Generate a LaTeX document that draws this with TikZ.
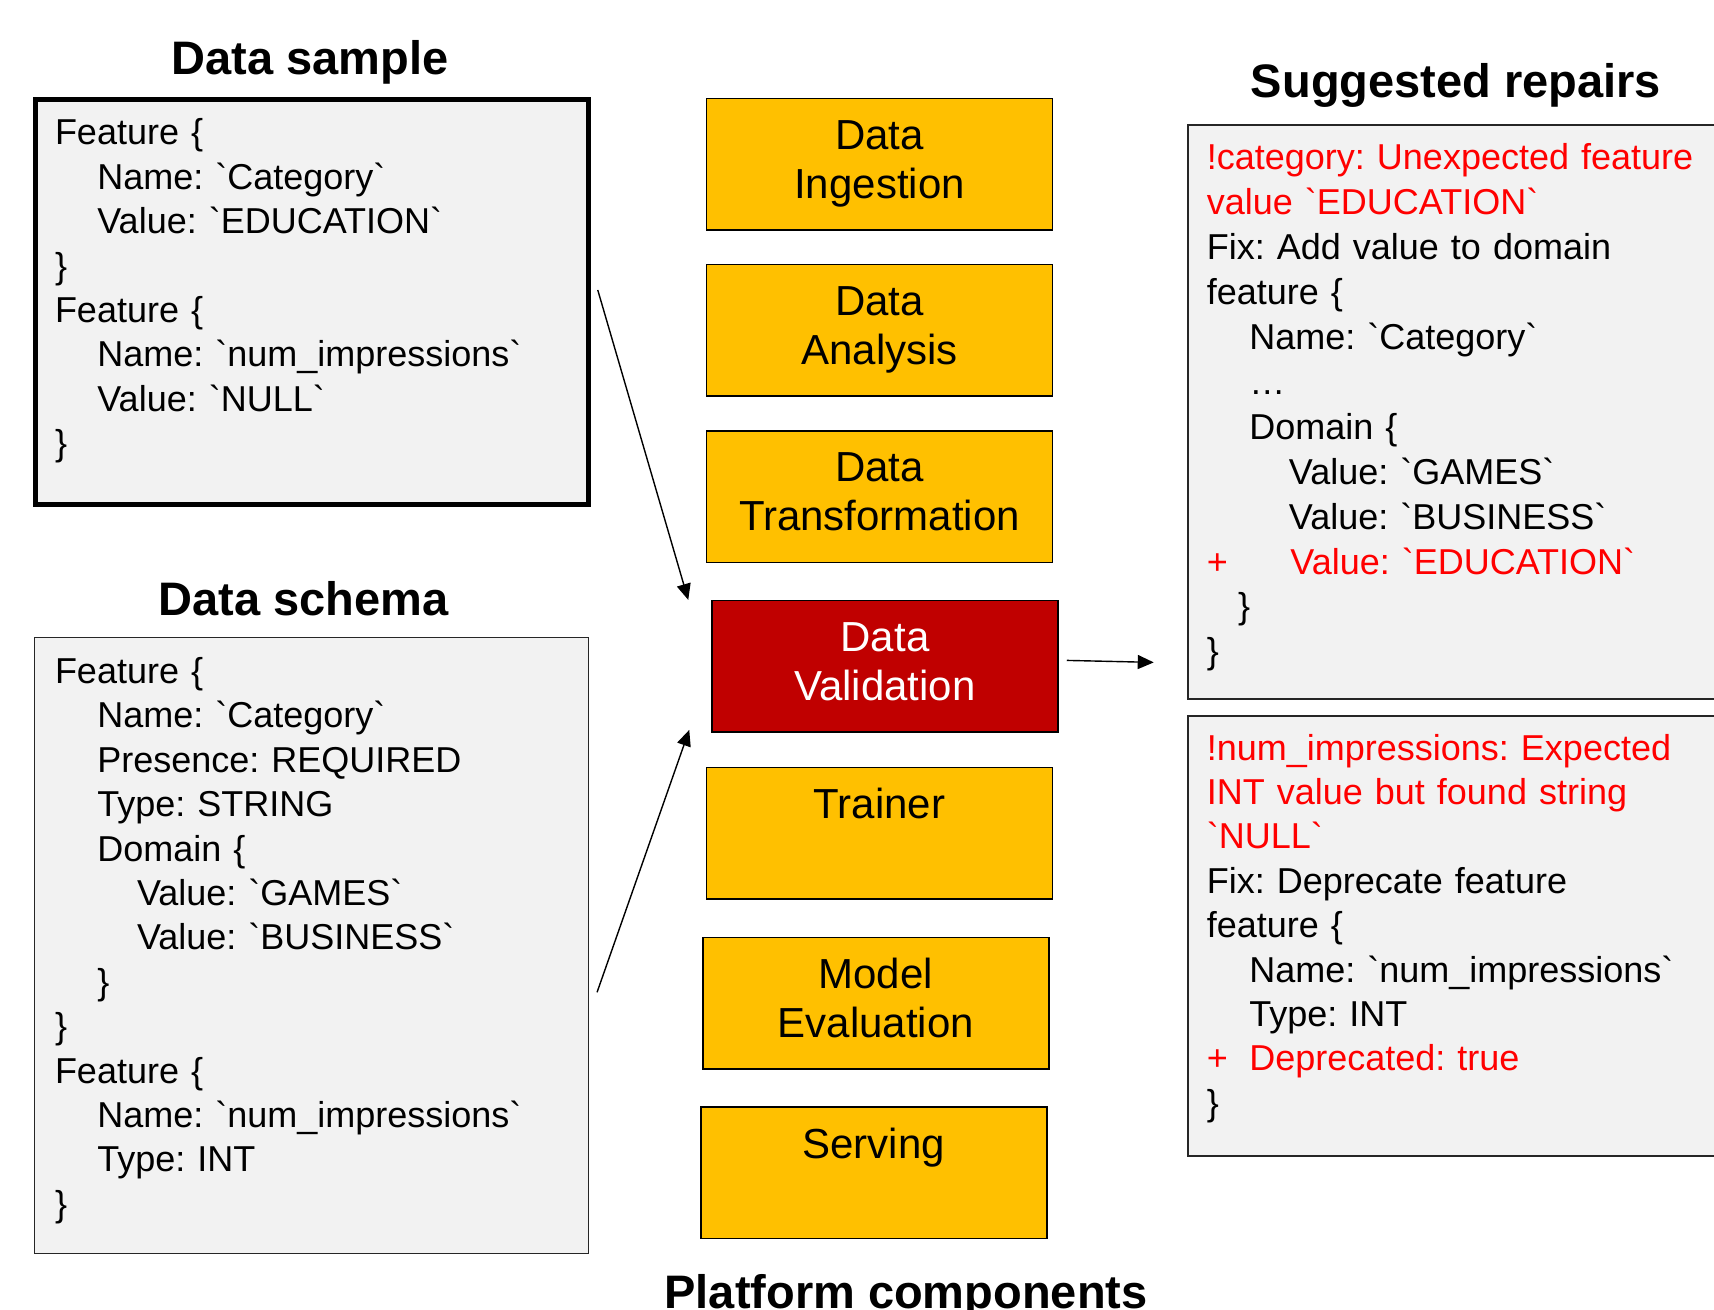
\documentclass[tikz,border=0pt]{standalone}
\usepackage{fontspec}
\setmainfont{Liberation Sans}[Ligatures=TeXOff]
\usetikzlibrary{arrows.meta, calc}
\definecolor{compyellow}{RGB}{255,192,0}
\definecolor{compred}{RGB}{192,0,0}
\definecolor{boxgray}{RGB}{242,242,242}
\definecolor{fixred}{RGB}{255,0,0}
\frenchspacing
\newcommand{\indA}{\hspace*{21.2pt}}
\newcommand{\indB}{\hspace*{41pt}}
\newcommand{\added}[2]{\textcolor{fixred}{\makebox[#1][l]{+}#2}}
\newcommand{\complabel}[2]{\strut#1\\\strut#2}

\begin{document}
\begin{tikzpicture}[x=0.5pt, y=-0.5pt,
    comp/.style={draw=black, line width=0.75pt, fill=compyellow, minimum width=173pt, minimum height=65.75pt, inner sep=0pt, align=center, font=\fontsize{21}{24.5}\selectfont},
    codebox/.style={draw=black!85, line width=0.75pt, fill=boxgray, inner sep=0pt},
    codetxt/.style={anchor=base west, align=left, inner sep=0pt, text width=300pt, font=\fontsize{18}{22.2}\selectfont},
    heading/.style={anchor=base, inner sep=0pt, font=\fontsize{23.5}{28}\selectfont\bfseries},
    link/.style={line width=0.7pt, -{Triangle[length=8pt, width=7pt]}}]
        \useasboundingbox (0,0) rectangle (1714,1310);
        \clip (0,0) rectangle (1714,1310);

        % Left: sample and schema
        \node[heading] (sampletitle) at (310,75) {Data sample};
        \node[codebox, draw=black, line width=2.25pt, minimum width=276.5pt, minimum height=202.5pt] (sample) at (312,302) {};
        \node[codetxt] (sampletxt) at (54.6,145) {Feature \{\\
            \indA Name: `Category`\\
            \indA Value: `EDUCATION`\\
            \}\\
            Feature \{\\
            \indA Name: `num\_impressions`\\
            \indA Value: `NULL`\\
            \}};

        \node[heading] (schematitle) at (303.5,615) {Data schema};
        \node[codebox, minimum width=277pt, minimum height=308pt] (schema) at (311.3,945.3) {};
        \node[codetxt] (schematxt) at (54.6,683.4) {Feature \{\\
            \indA Name: `Category`\\
            \indA Presence: REQUIRED\\
            \indA Type: STRING\\
            \indA Domain \{\\
            \indB Value: `GAMES`\\
            \indB Value: `BUSINESS`\\
            \indA\}\\
            \}\\
            Feature \{\\
            \indA Name: `num\_impressions`\\
            \indA Type: INT\\
            \}};

        % Middle: platform components
        \node[comp] (ingest) at (879.5,164.5) {\complabel{Data}{Ingestion}};
        \node[comp] (analysis) at (879.5,330.4) {\complabel{Data}{Analysis}};
        \node[comp] (transform) at (879.5,496.7) {\complabel{Data}{Transformation}};
        \node[comp, fill=compred, text=white] (valid) at (885,666.4) {\complabel{Data}{Validation}};
        \node[comp] (trainer) at (879.5,833) {\complabel{Trainer}{}};
        \node[comp] (modeleval) at (875.8,1003) {\complabel{Model}{Evaluation}};
        \node[comp] (serving) at (873.8,1172.7) {\complabel{Serving}{}};
        \node[heading] (comptitle) at (906,1308) {Platform components};

        % Right: suggested repairs
        \node[heading] (repairtitle) at (1456,98) {Suggested repairs};
        \node[codebox, line width=1pt, minimum width=281.25pt, minimum height=286.75pt] (fix1) at (1468.75,412.25) {};
        \node[codetxt, font=\fontsize{18}{22.45}\selectfont] (fix1txt) at (1206.5,170) {\textcolor{fixred}{!category: Unexpected feature}\\
            \textcolor{fixred}{value `EDUCATION`}\\
            Fix: Add value to domain\\
            feature \{\\
            \indA Name: `Category`\\
            \indA\ldots\\
            \indA Domain \{\\
            \indB Value: `GAMES`\\
            \indB Value: `BUSINESS`\\
            \added{41.75pt}{Value: `EDUCATION`}\\
            \hspace*{15.6pt}\}\\
            \}};

        \node[codebox, line width=1pt, minimum width=281.25pt, minimum height=220pt] (fix2) at (1468.75,936) {};
        \node[codetxt] (fix2txt) at (1206.5,760) {\textcolor{fixred}{!num\_impressions: Expected}\\
            \textcolor{fixred}{INT value but found string}\\
            \textcolor{fixred}{`NULL`}\\
            Fix: Deprecate feature\\
            feature \{\\
            \indA Name: `num\_impressions`\\
            \indA Type: INT\\
            \added{21.25pt}{Deprecated: true}\\
            \}};

        % Arrows
        \draw[link] ($(sample.east)+(7,-12)$) -- ($(valid.north west)+(-23,0)$);
        \draw[link] ($(schema.east)+(8,47)$) -- ($(valid.south west)+(-22,-3)$);
        \draw[link] ($(valid.east)+(8,-6)$) -- ($(valid.east)+(95,-4)$);
\end{tikzpicture}
\end{document}
